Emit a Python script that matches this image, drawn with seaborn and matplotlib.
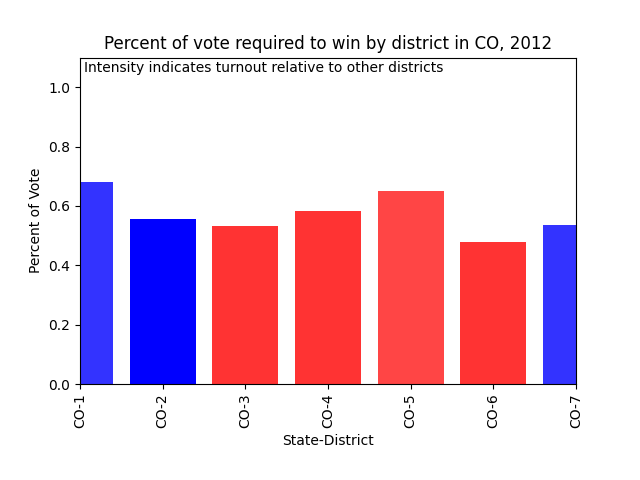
import matplotlib
matplotlib.use('Agg')
import matplotlib.pyplot as plt
import seaborn as sns
import pandas as pd

# values
districts = ['CO-1', 'CO-2', 'CO-3', 'CO-4', 'CO-5', 'CO-6', 'CO-7']
pct_to_win = [0.680, 0.556, 0.532, 0.582, 0.650, 0.478, 0.535]
party = ['D', 'D', 'R', 'R', 'R', 'R', 'D']
intensity = [0.8, 1.0, 0.8, 0.8, 0.73, 0.8, 0.8]

df = pd.DataFrame({'district': districts, 'pct': pct_to_win, 'party': party})
party_colors = {'D': 'blue', 'R': 'red'}
palette = [party_colors[p] for p in party]

fig, ax = plt.subplots(figsize=(6.4, 4.8), dpi=100)
sns.barplot(data=df, x='district', y='pct', hue='district', palette=palette,
            legend=False, width=0.8, saturation=1, ax=ax)
for patch, a in zip(ax.patches, intensity):
    patch.set_alpha(a)

ax.set_xlim(0, len(districts) - 1)
ax.set_ylim(0, 1.1)
ax.set_xticks(range(len(districts)))
ax.set_xticklabels(districts, rotation=90)
ax.set_xlabel('State-District')
ax.set_ylabel('Percent of Vote')
ax.set_title('Percent of vote required to win by district in CO, 2012')
ax.text(0.008, 0.989, 'Intensity indicates turnout relative to other districts',
        transform=ax.transAxes, va='top', ha='left', fontsize=10)

fig.subplots_adjust(left=0.125, right=0.9, top=0.88, bottom=0.2)
fig.savefig('out.png', dpi=100)
